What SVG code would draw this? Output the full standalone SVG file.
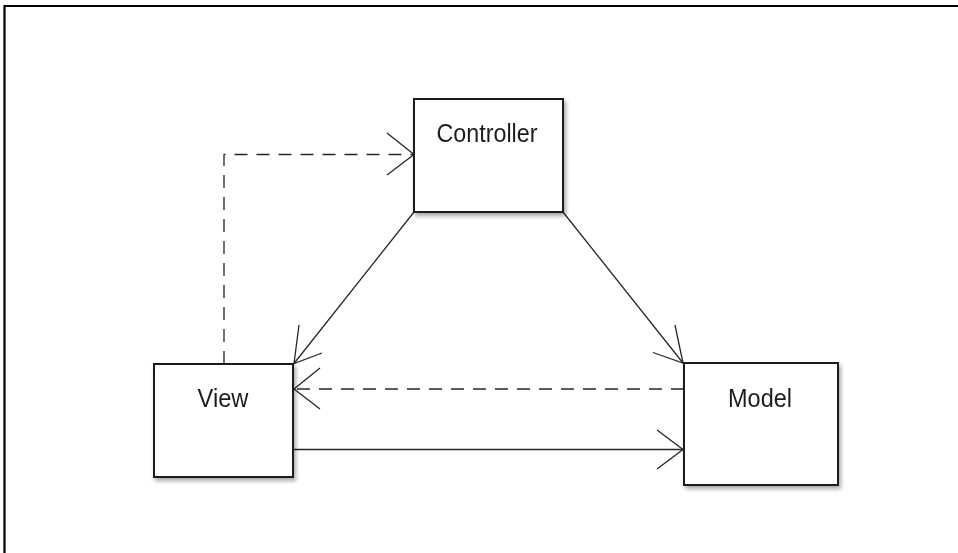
<svg xmlns="http://www.w3.org/2000/svg" width="958" height="553" viewBox="0 0 958 553">
  <style>
    .box { fill: #ffffff; stroke: #1a1a1a; stroke-width: 2; }
    .label { font-family: "Liberation Sans", Arial, sans-serif; font-size: 25px; fill: #1e1e1e; text-anchor: middle; }
    .line { fill: none; stroke: #262626; stroke-width: 1.3; }
    .dash { stroke-dasharray: 13 9; }
    .head { fill: none; stroke: #262626; stroke-width: 1.3; }
  </style>
  <defs>
    <filter id="shadow" x="-10%" y="-10%" width="130%" height="130%">
      <feGaussianBlur in="SourceAlpha" stdDeviation="2"/>
      <feOffset dx="2" dy="3" result="blur"/>
      <feComponentTransfer><feFuncA type="linear" slope="0.35"/></feComponentTransfer>
      <feMerge><feMergeNode/><feMergeNode in="SourceGraphic"/></feMerge>
    </filter>
  </defs>

  <rect x="0" y="0" width="958" height="553" fill="#ffffff"/>

  <!-- page frame -->
  <path d="M4.5 553 V6 H958" fill="none" stroke="#000000" stroke-width="2.2"/>

  <!-- connectors -->
  <g id="connectors">
    <!-- View -> Controller (dashed, elbow) -->
    <path class="line dash" d="M224 364 V154.5 H414"/>
    <path class="head" d="M387 133 L414 154.5 L387 175"/>

    <!-- Controller -> View -->
    <path class="line" d="M414 212 L294 363.5"/>
    <path class="head" d="M299 325 L294 363.5 L322 353"/>

    <!-- Controller -> Model -->
    <path class="line" d="M563 212 L683 363"/>
    <path class="head" d="M675 325 L683 363 L653 352.5"/>

    <!-- Model -> View (dashed) -->
    <path class="line dash" d="M684 389 H294"/>
    <path class="head" d="M320 368 L294 389 L320 409"/>

    <!-- View -> Model -->
    <path class="line" d="M293 449.5 H683"/>
    <path class="head" d="M657 430 L683 449.5 L657 469"/>
  </g>

  <!-- nodes -->
  <g id="controller" filter="url(#shadow)">
    <rect class="box" x="414" y="99" width="149" height="113"/>
    <text class="label" x="487" y="142" textLength="101" lengthAdjust="spacingAndGlyphs">Controller</text>
  </g>

  <g id="view" filter="url(#shadow)">
    <rect class="box" x="154" y="364" width="139" height="113"/>
    <text class="label" x="223" y="407" textLength="51" lengthAdjust="spacingAndGlyphs">View</text>
  </g>

  <g id="model" filter="url(#shadow)">
    <rect class="box" x="684" y="363" width="154" height="122"/>
    <text class="label" x="760" y="407" textLength="64" lengthAdjust="spacingAndGlyphs">Model</text>
  </g>
</svg>
